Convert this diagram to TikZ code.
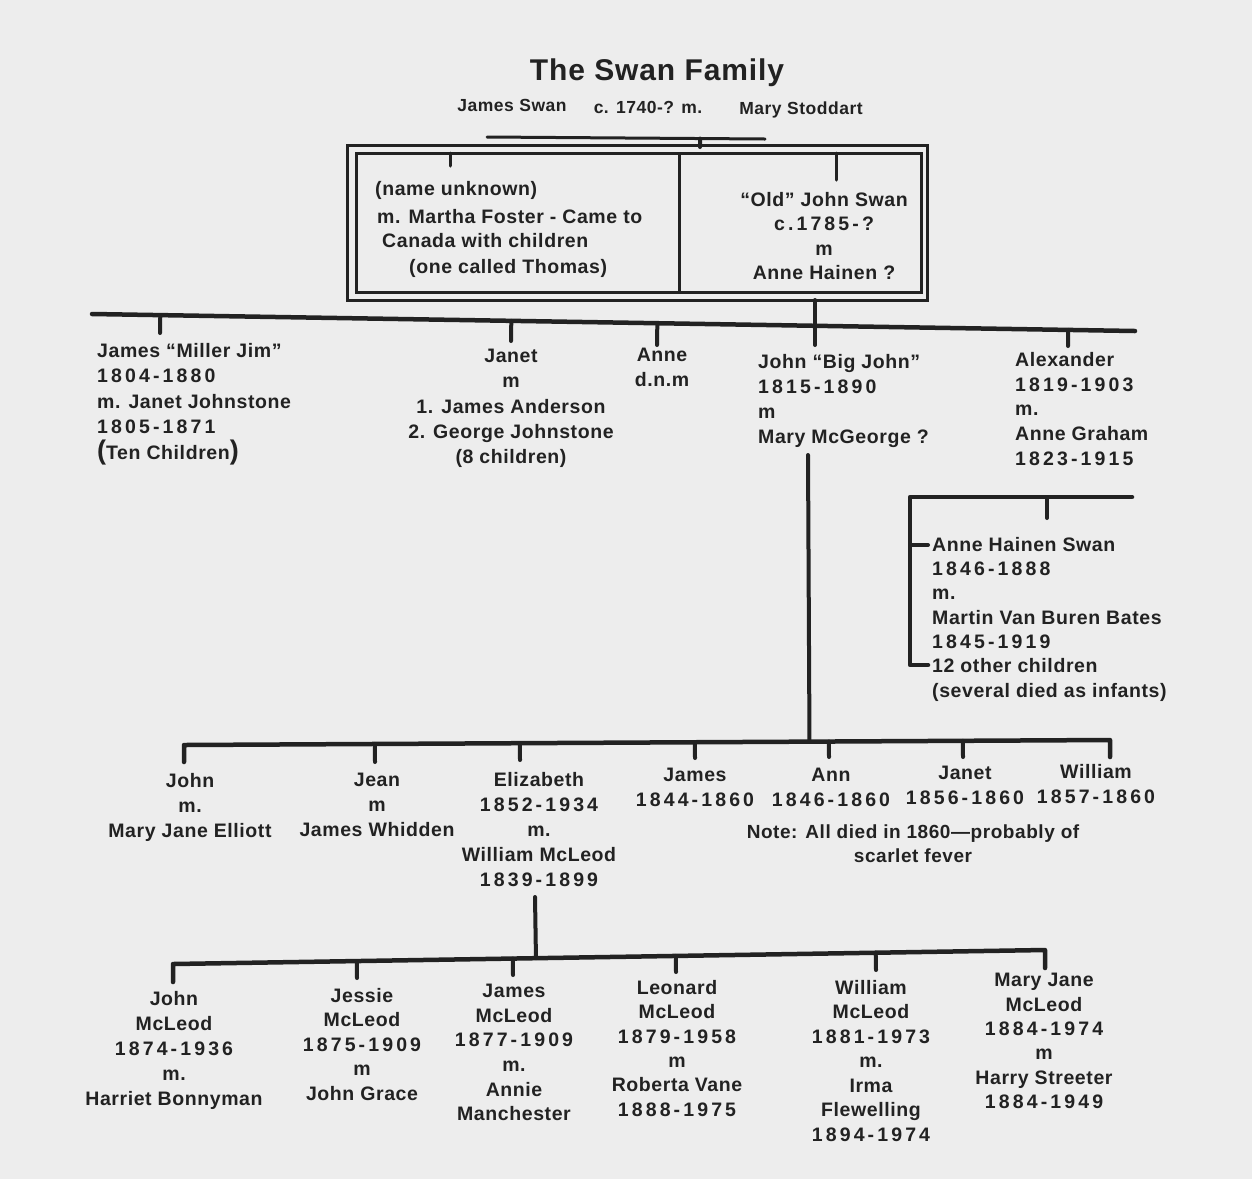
\documentclass[tikz,border=0pt]{standalone}
\usepackage{fontspec}
\setmainfont{Liberation Sans}[LetterSpace=3]
\newfontfamily\nf{Liberation Sans}[LetterSpace=16]
\usetikzlibrary{calc}
\definecolor{ink}{HTML}{222222}
\definecolor{bg}{HTML}{EDEDED}
\newcommand\yr[1]{{\nf #1}}
\newcommand\bigp[1]{{\fontsize{27}{25}\selectfont #1}}
\begin{document}
\begin{tikzpicture}[x=1pt,y=-1pt,
  every node/.style={inner sep=0pt, text=ink, font=\bfseries\fontsize{19.5}{25}\selectfont},
  lblock/.style={align=left, anchor=north west},
  cblock/.style={align=center, anchor=north},
  bus/.style={draw=ink, line width=4.5pt, line cap=round, line join=round},
  tick/.style={draw=ink, line width=4pt, line cap=round},
  boxline/.style={draw=ink, line width=3pt},
  thinline/.style={draw=ink, line width=3pt, line cap=round}]
\fill[bg] (0,0) rectangle (1252,1179);
\useasboundingbox (0,0) rectangle (1252,1179);

% ---- title
\node (title) [font=\bfseries\fontsize{30}{32}\selectfont] at (657,73) {The Swan Family};
\node (jswan) [font=\bfseries\fontsize{17.5}{20}\selectfont] at (512,105) {James Swan};
\node (jdate) [font=\bfseries\fontsize{17.5}{20}\selectfont] at (648,107) {c. 1740-? m.};
\node (mstod) [font=\bfseries\fontsize{17.5}{20}\selectfont] at (801,110) {Mary Stoddart};
\coordinate (pL) at (487,137); \coordinate (pR) at (765,139);
\draw[thinline] (pL) -- (pR);
\coordinate (pt) at (700,147);
\draw[tick] ($(pL)!(pt)!(pR)$) -- (pt);

% ---- double box
\coordinate (boNW) at (347,145); \coordinate (boSE) at (927,300);
\coordinate (biNW) at (356,153); \coordinate (biSE) at (921,292);
\draw[boxline] (boNW) rectangle (boSE);
\draw[boxline] (biNW) rectangle (biSE);
\coordinate (dvT) at (679,153); \coordinate (dvB) at (679,292);
\draw[boxline] (dvT) -- (dvB);
\coordinate (k1a) at (450,153); \coordinate (k1b) at (450,166);
\coordinate (k2a) at (836,153); \coordinate (k2b) at (836,180);
\draw[thinline] (k1a) -- (k1b);
\draw[thinline] (k2a) -- (k2b);

\node (u1) [anchor=west] at (375,190) {(name unknown)};
\node (u2) [anchor=west] at (377,217) {m. Martha Foster - Came to};
\node (u3) [anchor=west] at (382,241) {Canada with children};
\node (u4) [anchor=west] at (409,268) {(one called Thomas)};
\node (oldj) [cblock, font=\bfseries\fontsize{19.5}{24.5}\selectfont] at (824,192)
  {“Old” John Swan\\ \yr{c.1785-?}\\ m\\ Anne Hainen ?};

% ---- main bus
\coordinate (bL) at (92,314); \coordinate (bR) at (1135,331);
\draw[bus] (bL) -- (bR);
\coordinate (jt) at (815,300); \coordinate (jb) at (815,345);
\draw[tick] (jt) -- (jb);
\foreach \n/\x/\y in {a/160/333, b/511/341, c/657/345, d/1068/346}{
  \coordinate (m\n) at (\x,\y);
  \draw[tick] ($(bL)!(m\n)!(bR)$) -- (m\n);
}

% ---- row 1
\node (millerjim) [lblock, font=\bfseries\fontsize{19.5}{25.5}\selectfont] at (97,343)
  {James “Miller Jim”\\ \yr{1804-1880}\\ m. Janet Johnstone\\ \yr{1805-1871}\\ \bigp{(}Ten Children\bigp{)}};
\node (janet) [cblock, font=\bfseries\fontsize{19.5}{25.3}\selectfont] at (511,349)
  {Janet\\ m\\ 1. James Anderson\\ 2. George Johnstone\\ (8 children)};
\node (anne) [cblock] at (662,348) {Anne\\ d.n.m};
\node (bigjohn) [lblock] at (758,354)
  {John “Big John”\\ \yr{1815-1890}\\ m\\ Mary McGeorge ?};
\node (alex) [lblock, font=\bfseries\fontsize{19.5}{24.8}\selectfont] at (1015,352)
  {Alexander\\ \yr{1819-1903}\\ m.\\ Anne Graham\\ \yr{1823-1915}};

% ---- Anne Hainen side branch
\coordinate (hR) at (1132,497); \coordinate (hC) at (910,497);
\coordinate (hB) at (910,665); \coordinate (hE) at (928,665);
\draw[bus] (hR) -- (hC) -- (hB) -- (hE);
\coordinate (hs1) at (910,545); \coordinate (hs2) at (928,545);
\draw[tick] (hs1) -- (hs2);
\coordinate (ht1) at (1047,497); \coordinate (ht2) at (1047,518);
\draw[tick] (ht1) -- (ht2);
\node (hainen) [lblock, font=\bfseries\fontsize{19.5}{24.3}\selectfont] at (932,537)
  {Anne Hainen Swan\\ \yr{1846-1888}\\ m.\\ Martin Van Buren Bates\\ \yr{1845-1919}\\ 12 other children\\ (several died as infants)};

% ---- row 2 bus
\coordinate (r2a) at (184,762); \coordinate (r2L) at (184,745);
\coordinate (r2R) at (1110,740); \coordinate (r2b) at (1110,757);
\draw[bus] (r2a) -- (r2L) -- (r2R) -- (r2b);
\coordinate (bj) at (808,455);
\draw[tick] (bj) -- ($(r2L)!(bj)!(r2R)$);
\foreach \n/\x/\y in {a/375/762, b/520/760, c/695/758, d/829/757, e/963/757}{
  \coordinate (s\n) at (\x,\y);
  \draw[tick] ($(r2L)!(s\n)!(r2R)$) -- (s\n);
}

% ---- row 2
\node (john2) [cblock] at (190,773) {John\\ m.\\ Mary Jane Elliott};
\node (jean) [cblock] at (377,773) {Jean\\ m\\ James Whidden};
\node (eliz) [cblock] at (539,772) {Elizabeth\\ \yr{1852-1934}\\ m.\\ William McLeod\\ \yr{1839-1899}};
\node (james2) [cblock] at (695,768) {James\\ \yr{1844-1860}};
\node (ann2) [cblock] at (831,768) {Ann\\ \yr{1846-1860}};
\node (janet2) [cblock] at (965,766) {Janet\\ \yr{1856-1860}};
\node (will2) [cblock] at (1096,764) {William\\ \yr{1857-1860}};
\node (note) [cblock, font=\bfseries\fontsize{19}{24}\selectfont] at (913,825)
  {Note: All died in 1860—probably of\\ scarlet fever};

% ---- row 3 bus
\coordinate (r3a) at (173,982); \coordinate (r3L) at (173,964);
\coordinate (r3R) at (1045,950); \coordinate (r3b) at (1045,968);
\draw[bus] (r3a) -- (r3L) -- (r3R) -- (r3b);
\coordinate (el) at (535,897);
\draw[tick] (el) -- ($(r3L)!(el)!(r3R)$);
\foreach \n/\x/\y in {a/357/978, b/513/975, c/676/972, d/876/970}{
  \coordinate (g\n) at (\x,\y);
  \draw[tick] ($(r3L)!(g\n)!(r3R)$) -- (g\n);
}

% ---- row 3
\node (johnm) [cblock] at (174,991) {John\\ McLeod\\ \yr{1874-1936}\\ m.\\ Harriet Bonnyman};
\node (jessie) [cblock, font=\bfseries\fontsize{19.5}{24.5}\selectfont] at (362,988) {Jessie\\ McLeod\\ \yr{1875-1909}\\ m\\ John Grace};
\node (jamesm) [cblock, font=\bfseries\fontsize{19.5}{24.6}\selectfont] at (514,984) {James\\ McLeod\\ \yr{1877-1909}\\ m.\\ Annie\\ Manchester};
\node (leonard) [cblock, font=\bfseries\fontsize{19.5}{24.4}\selectfont] at (677,980) {Leonard\\ McLeod\\ \yr{1879-1958}\\ m\\ Roberta Vane\\ \yr{1888-1975}};
\node (willm) [cblock, font=\bfseries\fontsize{19.5}{24.5}\selectfont] at (871,980) {William\\ McLeod\\ \yr{1881-1973}\\ m.\\ Irma\\ Flewelling\\ \yr{1894-1974}};
\node (maryj) [cblock, font=\bfseries\fontsize{19.5}{24.4}\selectfont] at (1044,973) {Mary Jane\\ McLeod\\ \yr{1884-1974}\\ m\\ Harry Streeter\\ \yr{1884-1949}};
\end{tikzpicture}
\end{document}
